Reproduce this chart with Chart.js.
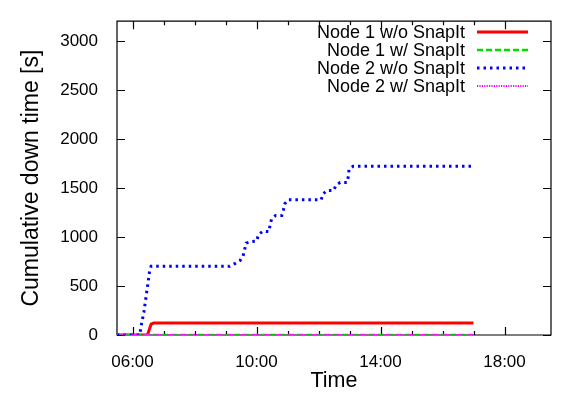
<!DOCTYPE html>
<html lang="en">
<head>
  <meta charset="UTF-8" />
  <title>Cumulative down time</title>
  <style>
    body { margin: 0; background: #fff; }
    #grafico { display: block; }
  </style>
</head>
<body>
<canvas id="grafico" width="563" height="394"></canvas>

<script src="https://cdn.jsdelivr.net/npm/chart.js@4.4.0/dist/chart.umd.min.js"></script>
<script>
  // --- data ---
  const seriesLabels = ['Node 1 w/o SnapIt', 'Node 1 w/ SnapIt', 'Node 2 w/o SnapIt', 'Node 2 w/ SnapIt'];

  const node1WithoutTimes  = ['05:30', '06:29', '06:36', '06:41', '17:00'];
  const node1WithoutValues = [0, 0, 110, 122, 122];

  const node1WithTimes  = ['05:30', '17:00'];
  const node1WithValues = [0, 0];

  const node2WithoutTimes = ['05:30', '06:14', '06:17', '06:22', '06:26', '06:30', '06:33', '06:36',
    '09:08', '09:19', '09:28', '09:34', '09:37', '09:40', '09:50', '10:00', '10:04', '10:12', '10:24',
    '10:26', '10:29', '10:37', '10:49', '10:52', '10:55', '11:01', '12:05', '12:09', '12:16', '12:29',
    '12:34', '12:42', '12:55', '12:58', '12:59', '13:07', '17:00'];
  const node2WithoutValues = [0, 0, 100, 232, 382, 531, 648, 700,
    700, 731, 758, 805, 870, 937, 954, 957, 1024, 1057, 1054,
    1114, 1179, 1219, 1219, 1273, 1339, 1379, 1379, 1439, 1473, 1473,
    1528, 1555, 1555, 1622, 1688, 1720, 1720];

  const node2WithTimes  = ['05:30', '17:00'];
  const node2WithValues = [0, 0];

  const xMajorTicks = ['06:00', '10:00', '14:00', '18:00'];
  const xMinorTicks = ['06:00', '07:00', '08:00', '09:00', '10:00', '11:00', '12:00',
    '13:00', '14:00', '15:00', '16:00', '17:00', '18:00'];
  const yTicks = [0, 500, 1000, 1500, 2000, 2500, 3000];

  const xMin = '05:30';
  const xMax = '19:30';
  const yMax = 3200;

  const FUENTE = "'Liberation Sans', Arial, sans-serif";

  function aHoras(t) {
    const [h, m] = t.split(':').map(Number);
    return h + m / 60;
  }
  function aTexto(v) {
    const h = Math.floor(v + 1e-6);
    const m = Math.round((v - h) * 60);
    return String(h).padStart(2, '0') + ':' + String(m).padStart(2, '0');
  }
  function puntos(tiempos, valores) {
    return tiempos.map((t, i) => ({ x: aHoras(t), y: valores[i] }));
  }

  // marco y marcas hacia dentro, estilo gnuplot
  const marcoPlugin = {
    id: 'marco',
    beforeDatasetsDraw(chart) {
      const { ctx, chartArea: a, scales: { x, y } } = chart;
      ctx.save();
      ctx.strokeStyle = '#000';
      ctx.lineWidth = 1.2;
      ctx.beginPath();
      ctx.rect(a.left, a.top, a.right - a.left, a.bottom - a.top);
      ctx.stroke();

      ctx.beginPath();
      xMinorTicks.forEach(t => {
        const px = Math.round(x.getPixelForValue(aHoras(t))) + 0.5;
        const len = xMajorTicks.includes(t) ? 8 : 4;
        ctx.moveTo(px, a.bottom); ctx.lineTo(px, a.bottom - len);
        ctx.moveTo(px, a.top); ctx.lineTo(px, a.top + len);
      });
      yTicks.forEach(v => {
        const py = Math.round(y.getPixelForValue(v)) + 0.5;
        ctx.moveTo(a.left, py); ctx.lineTo(a.left + 8, py);
        ctx.moveTo(a.right, py); ctx.lineTo(a.right - 8, py);
      });
      ctx.stroke();
      ctx.restore();
    }
  };

  // leyenda: texto a la derecha con muestra de línea
  const leyendaPlugin = {
    id: 'leyenda',
    afterDraw(chart) {
      const { ctx } = chart;
      ctx.save();
      ctx.font = '18px ' + FUENTE;
      ctx.textAlign = 'right';
      ctx.textBaseline = 'middle';
      chart.data.datasets.forEach((ds, i) => {
        const yy = 32 + i * 18;
        ctx.fillStyle = '#000';
        ctx.fillText(ds.label, 465, yy + 1);
        ctx.strokeStyle = ds.borderColor;
        ctx.lineWidth = ds.borderWidth;
        ctx.setLineDash(ds.borderDash || []);
        ctx.beginPath();
        ctx.moveTo(477, yy);
        ctx.lineTo(528, yy);
        ctx.stroke();
      });
      ctx.restore();
    }
  };

  const estilos = [
    { color: '#ff0000', width: 3, dash: [] },
    { color: '#00dd00', width: 2.5, dash: [6, 3] },
    { color: '#0000ff', width: 3, dash: [2.5, 4] },
    { color: '#ff00ff', width: 2, dash: [1.2, 1.2] }
  ];
  const series = [
    puntos(node1WithoutTimes, node1WithoutValues),
    puntos(node1WithTimes, node1WithValues),
    puntos(node2WithoutTimes, node2WithoutValues),
    puntos(node2WithTimes, node2WithValues)
  ];

  new Chart(document.getElementById('grafico'), {
    type: 'line',
    data: {
      datasets: series.map((d, i) => ({
        label: seriesLabels[i],
        data: d,
        borderColor: estilos[i].color,
        borderWidth: estilos[i].width,
        borderDash: estilos[i].dash,
        pointRadius: 0,
        tension: 0,
        fill: false,
        order: series.length - i
      }))
    },
    options: {
      responsive: false,
      animation: false,
      devicePixelRatio: 1,
      layout: { padding: { top: 13, right: 12, left: 0, bottom: 0 } },
      plugins: { legend: { display: false }, tooltip: { enabled: false } },
      scales: {
        x: {
          type: 'linear',
          min: aHoras(xMin),
          max: aHoras(xMax),
          grid: { display: false },
          border: { display: false },
          afterBuildTicks: s => { s.ticks = xMajorTicks.map(t => ({ value: aHoras(t) })); },
          afterFit: s => { s.height = 59; },
          ticks: {
            padding: 9,
            maxRotation: 0,
            autoSkip: false,
            color: '#000',
            font: { family: FUENTE, size: 17 },
            callback: v => aTexto(v)
          },
          title: {
            display: true,
            text: 'Time',
            color: '#000',
            font: { family: FUENTE, size: 21.5 },
            padding: { top: 0, bottom: 0 }
          }
        },
        y: {
          min: 0,
          max: yMax,
          grid: { display: false },
          border: { display: false },
          afterBuildTicks: s => { s.ticks = yTicks.map(v => ({ value: v })); },
          afterFit: s => { s.width = 117; },
          ticks: {
            padding: 11,
            color: '#000',
            font: { family: FUENTE, size: 17 },
            callback: v => String(v)
          },
          title: {
            display: true,
            text: 'Cumulative down time [s]',
            color: '#000',
            font: { family: FUENTE, size: 23 },
            padding: { top: 18, bottom: 0 }
          }
        }
      }
    },
    plugins: [marcoPlugin, leyendaPlugin]
  });
</script>
</body>
</html>
